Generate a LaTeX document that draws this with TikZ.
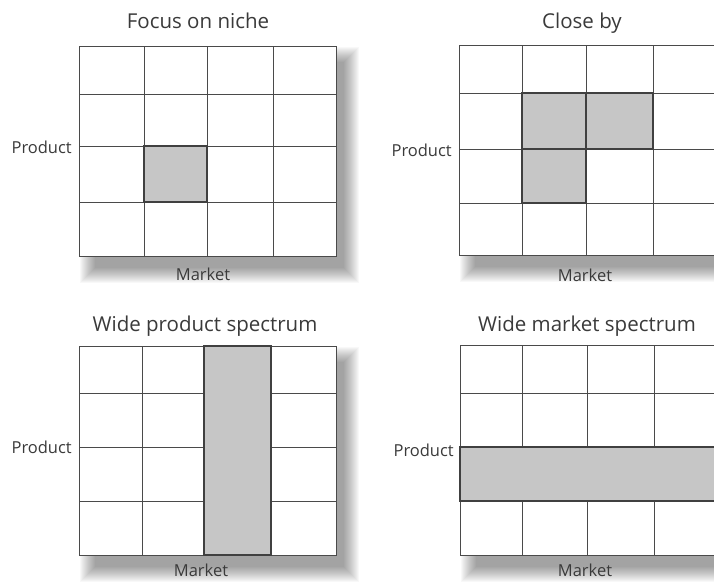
\documentclass[tikz,border=0pt]{standalone}
\usepackage{fontspec}
\setmainfont{Open Sans}
\definecolor{txt}{HTML}{3A3A3A}
\definecolor{linegray}{HTML}{4A4A4A}
\definecolor{edgegray}{HTML}{404040}
\definecolor{cellgray}{HTML}{C6C6C6}
\newcommand\myshadow[4]{%
  \foreach \k in {1,...,16}{\fill[black,opacity=0.026] ({#1+\k},{#2+\k}) rectangle ({#3+24-\k},{#4+28-\k});}}
\begin{document}
\begin{tikzpicture}[x=1pt,y=-1pt,
  gridline/.style={draw=linegray, line width=0.9pt},
  hot/.style={fill=cellgray, draw=edgegray, line width=1.1pt},
  title/.style={font=\fontsize{20.5}{22}\selectfont, text=txt, inner sep=0pt, text height=15pt, text depth=4pt},
  axis/.style={font=\fontsize{16.5}{18}\selectfont, text=txt, inner sep=0pt, text height=12pt, text depth=0pt}]
\useasboundingbox (0,0) rectangle (714,581);
\clip (0,0) rectangle (714,581);

% ---------- Top-left: Focus on niche ----------
\myshadow{79}{46}{336}{256}
\fill[white] (79,46) rectangle (336,256);
\foreach \x in {144,207,273} \draw[gridline] (\x,46) -- (\x,256);
\foreach \y in {94,146,202} \draw[gridline] (79,\y) -- (336,\y);
\draw[gridline] (79,46) rectangle (336,256);
\filldraw[hot] (144,146) rectangle (207,202);
\node[title] (t1) at (198,23) {Focus on niche};
\node[axis, anchor=east] (p1) at (72,147) {Product};
\node[axis] (m1) at (203,274) {Market};

% ---------- Top-right: Close by ----------
\myshadow{459}{45}{718}{255}
\fill[white] (459,45) rectangle (718,255);
\foreach \x in {522,586,653} \draw[gridline] (\x,45) -- (\x,255);
\foreach \y in {93,149,203} \draw[gridline] (459,\y) -- (718,\y);
\draw[gridline] (459,45) rectangle (718,255);
\filldraw[hot] (522,93) rectangle (586,149);
\filldraw[hot] (586,93) rectangle (653,149);
\filldraw[hot] (522,149) rectangle (586,203);
\node[title] (t2) at (582,23) {Close by};
\node[axis, anchor=east] (p2) at (452,150) {Product};
\node[axis] (m2) at (585,275) {Market};

% ---------- Bottom-left: Wide product spectrum ----------
\myshadow{79}{346}{336}{555}
\fill[white] (79,346) rectangle (336,555);
\foreach \x in {142,204,271} \draw[gridline] (\x,346) -- (\x,555);
\foreach \y in {393,447,501} \draw[gridline] (79,\y) -- (336,\y);
\draw[gridline] (79,346) rectangle (336,555);
\filldraw[hot] (204,346) rectangle (271,555);
\node[title] (t3) at (205,326) {Wide product spectrum};
\node[axis, anchor=east] (p3) at (72,447) {Product};
\node[axis] (m3) at (201,570) {Market};

% ---------- Bottom-right: Wide market spectrum ----------
\myshadow{460}{345}{718}{555}
\fill[white] (460,345) rectangle (718,555);
\foreach \x in {522,587,654} \draw[gridline] (\x,345) -- (\x,555);
\foreach \y in {393,447,501} \draw[gridline] (460,\y) -- (718,\y);
\draw[gridline] (460,345) rectangle (718,555);
\filldraw[hot] (460,447) rectangle (718,501);
\node[title] (t4) at (587,326) {Wide market spectrum};
\node[axis, anchor=east] (p4) at (454,450) {Product};
\node[axis] (m4) at (585,570) {Market};
\end{tikzpicture}
\end{document}
